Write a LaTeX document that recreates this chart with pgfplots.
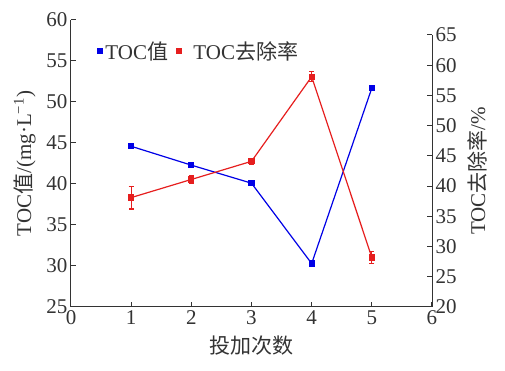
\documentclass[border=0pt]{standalone}
\usepackage{fontspec}
\setmainfont{Liberation Serif}
\newfontfamily\cjk{Noto Sans CJK SC}
\usepackage{pgfplots}
\pgfplotsset{compat=1.18}
\definecolor{txt}{HTML}{333333}
\definecolor{bl}{HTML}{0000E6}
\definecolor{rd}{HTML}{E61E1E}
\begin{document}
\begin{tikzpicture}
\path[use as bounding box] (-71pt,-64pt) rectangle (434pt,307pt);
\pgfplotsset{every axis/.append style={
  font=\fontsize{21}{24}\selectfont,
  /pgf/number format/assume math mode=true,
  scale only axis, tick align=inside, major tick length=5pt,
  axis line style={txt, line width=1pt, -},
  every tick/.style={txt, line width=1pt},
  tick label style={txt}, label style={txt}}}
\begin{axis}[at={(0,0)}, anchor=south west, width=361pt, height=287pt,
  xmin=0, xmax=6, ymin=25, ymax=60,
  axis x line*=bottom, axis y line*=left,
  xtick={0,...,6}, ytick={25,30,...,60},
  xlabel={\cjk 投加次数},
  ylabel={TOC{\cjk 值}/(mg·L\textsuperscript{−1})},
  xlabel style={yshift=-4pt}, ylabel style={yshift=4pt},
  legend style={at={(0.072,0.892)}, anchor=west, draw=none, fill=none,
    legend columns=2, text=txt, inner xsep=0pt,
    /tikz/every even column/.append style={column sep=6pt}},
  legend image code/.code={\fill (0pt,-2.5pt) rectangle (5pt,2.5pt);}]
\addplot[bl, line width=1.2pt, mark=square*, mark size=2.5pt]
  coordinates {(1,44.6) (2,42.3) (3,40.1) (4,30.3) (5,51.7)};
\addlegendentry{TOC{\cjk 值}}
\addlegendimage{rd}
\addlegendentry{\hspace{10pt}TOC{\cjk 去除率}}
\end{axis}
\begin{axis}[at={(0,0)}, anchor=south west, width=361pt, height=272pt,
  xmin=0, xmax=6, ymin=20, ymax=65,
  axis x line=none, axis y line*=right,
  ytick={20,25,...,65},
  ylabel={TOC{\cjk 去除率}/\%}, ylabel style={yshift=-4pt}]
\addplot[rd, line width=1.2pt, mark=square*, mark size=2.5pt,
  error bars/.cd, y dir=both, y explicit,
  error bar style={line width=1.2pt, rd},
  error mark options={rotate=90, mark size=2.5pt, line width=1.2pt, rd}]
  coordinates {(1,38.1) +- (0,1.9) (2,41.1) +- (0,0.6) (3,44.1) +- (0,0.5) (4,58.1) +- (0,0.8) (5,28.2) +- (0,1.0)};
\end{axis}
\end{tikzpicture}
\end{document}
